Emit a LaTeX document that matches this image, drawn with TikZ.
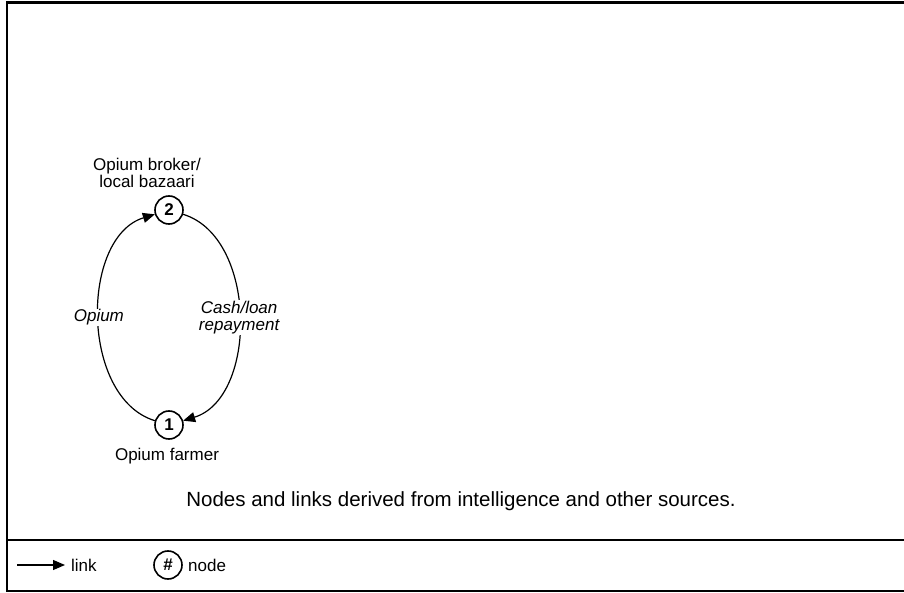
\documentclass[tikz,border=0pt]{standalone}
\usepackage{fontspec}
\setmainfont{Liberation Sans}
\usetikzlibrary{arrows.meta}
\begin{document}
\begin{tikzpicture}[x=1pt,y=1pt,
  every node/.style={font=\fontsize{17}{16.5}\selectfont},
  actor/.style={circle,draw,line width=1.6pt,minimum size=28pt,inner sep=0pt,font=\fontsize{17}{17}\selectfont\bfseries},
  flow/.style={line width=1.2pt,-{Triangle[length=12pt,width=10pt]}},
  flowlabel/.style={fill=white,inner sep=1pt,align=center,font=\fontsize{17}{16.5}\selectfont\itshape},
  caption/.style={align=center},
  frame/.style={line width=2.4pt}]
\useasboundingbox (0,0) rectangle (904,592);
\clip (0,0) rectangle (904,592);
\fill[white] (0,0) rectangle (904,592);

% outer frame, open on the right, and the legend divider
\draw[frame] (912,589.5) -- (7,589.5) -- (7,1) -- (912,1);
\draw[line width=2pt] (7,52) -- (912,52);

% actors
\node[actor] (n2) at (169,382) {2};
\node[actor] (n1) at (169,167) {1};
\node[caption] (l2) at (147,419) {Opium broker/\\local bazaari};
\node[caption] (l1) at (167,136) {Opium farmer};

% flows between the actors
\draw[flow] (n1) to[out=163,in=197,looseness=0.97] node[flowlabel] (f1) {Opium} (n2);
\draw[flow] (n2) to[out=-17,in=17,looseness=0.97] node[flowlabel] (f2) {Cash/loan\\repayment} (n1);

% source note
\node[font=\fontsize{20.5}{22}\selectfont] (note) at (461,91) {Nodes and links derived from intelligence and other sources.};

% legend
\coordinate (la) at (17,27);
\coordinate (lb) at (65,27);
\draw[flow] (la) -- (lb);
\node[anchor=west,inner sep=0pt] (lt) at (71,27) {link};
\node[actor] (lc) at (168,27) {\#};
\node[anchor=west,inner sep=0pt] (nt) at (188,27) {node};
\end{tikzpicture}
\end{document}
